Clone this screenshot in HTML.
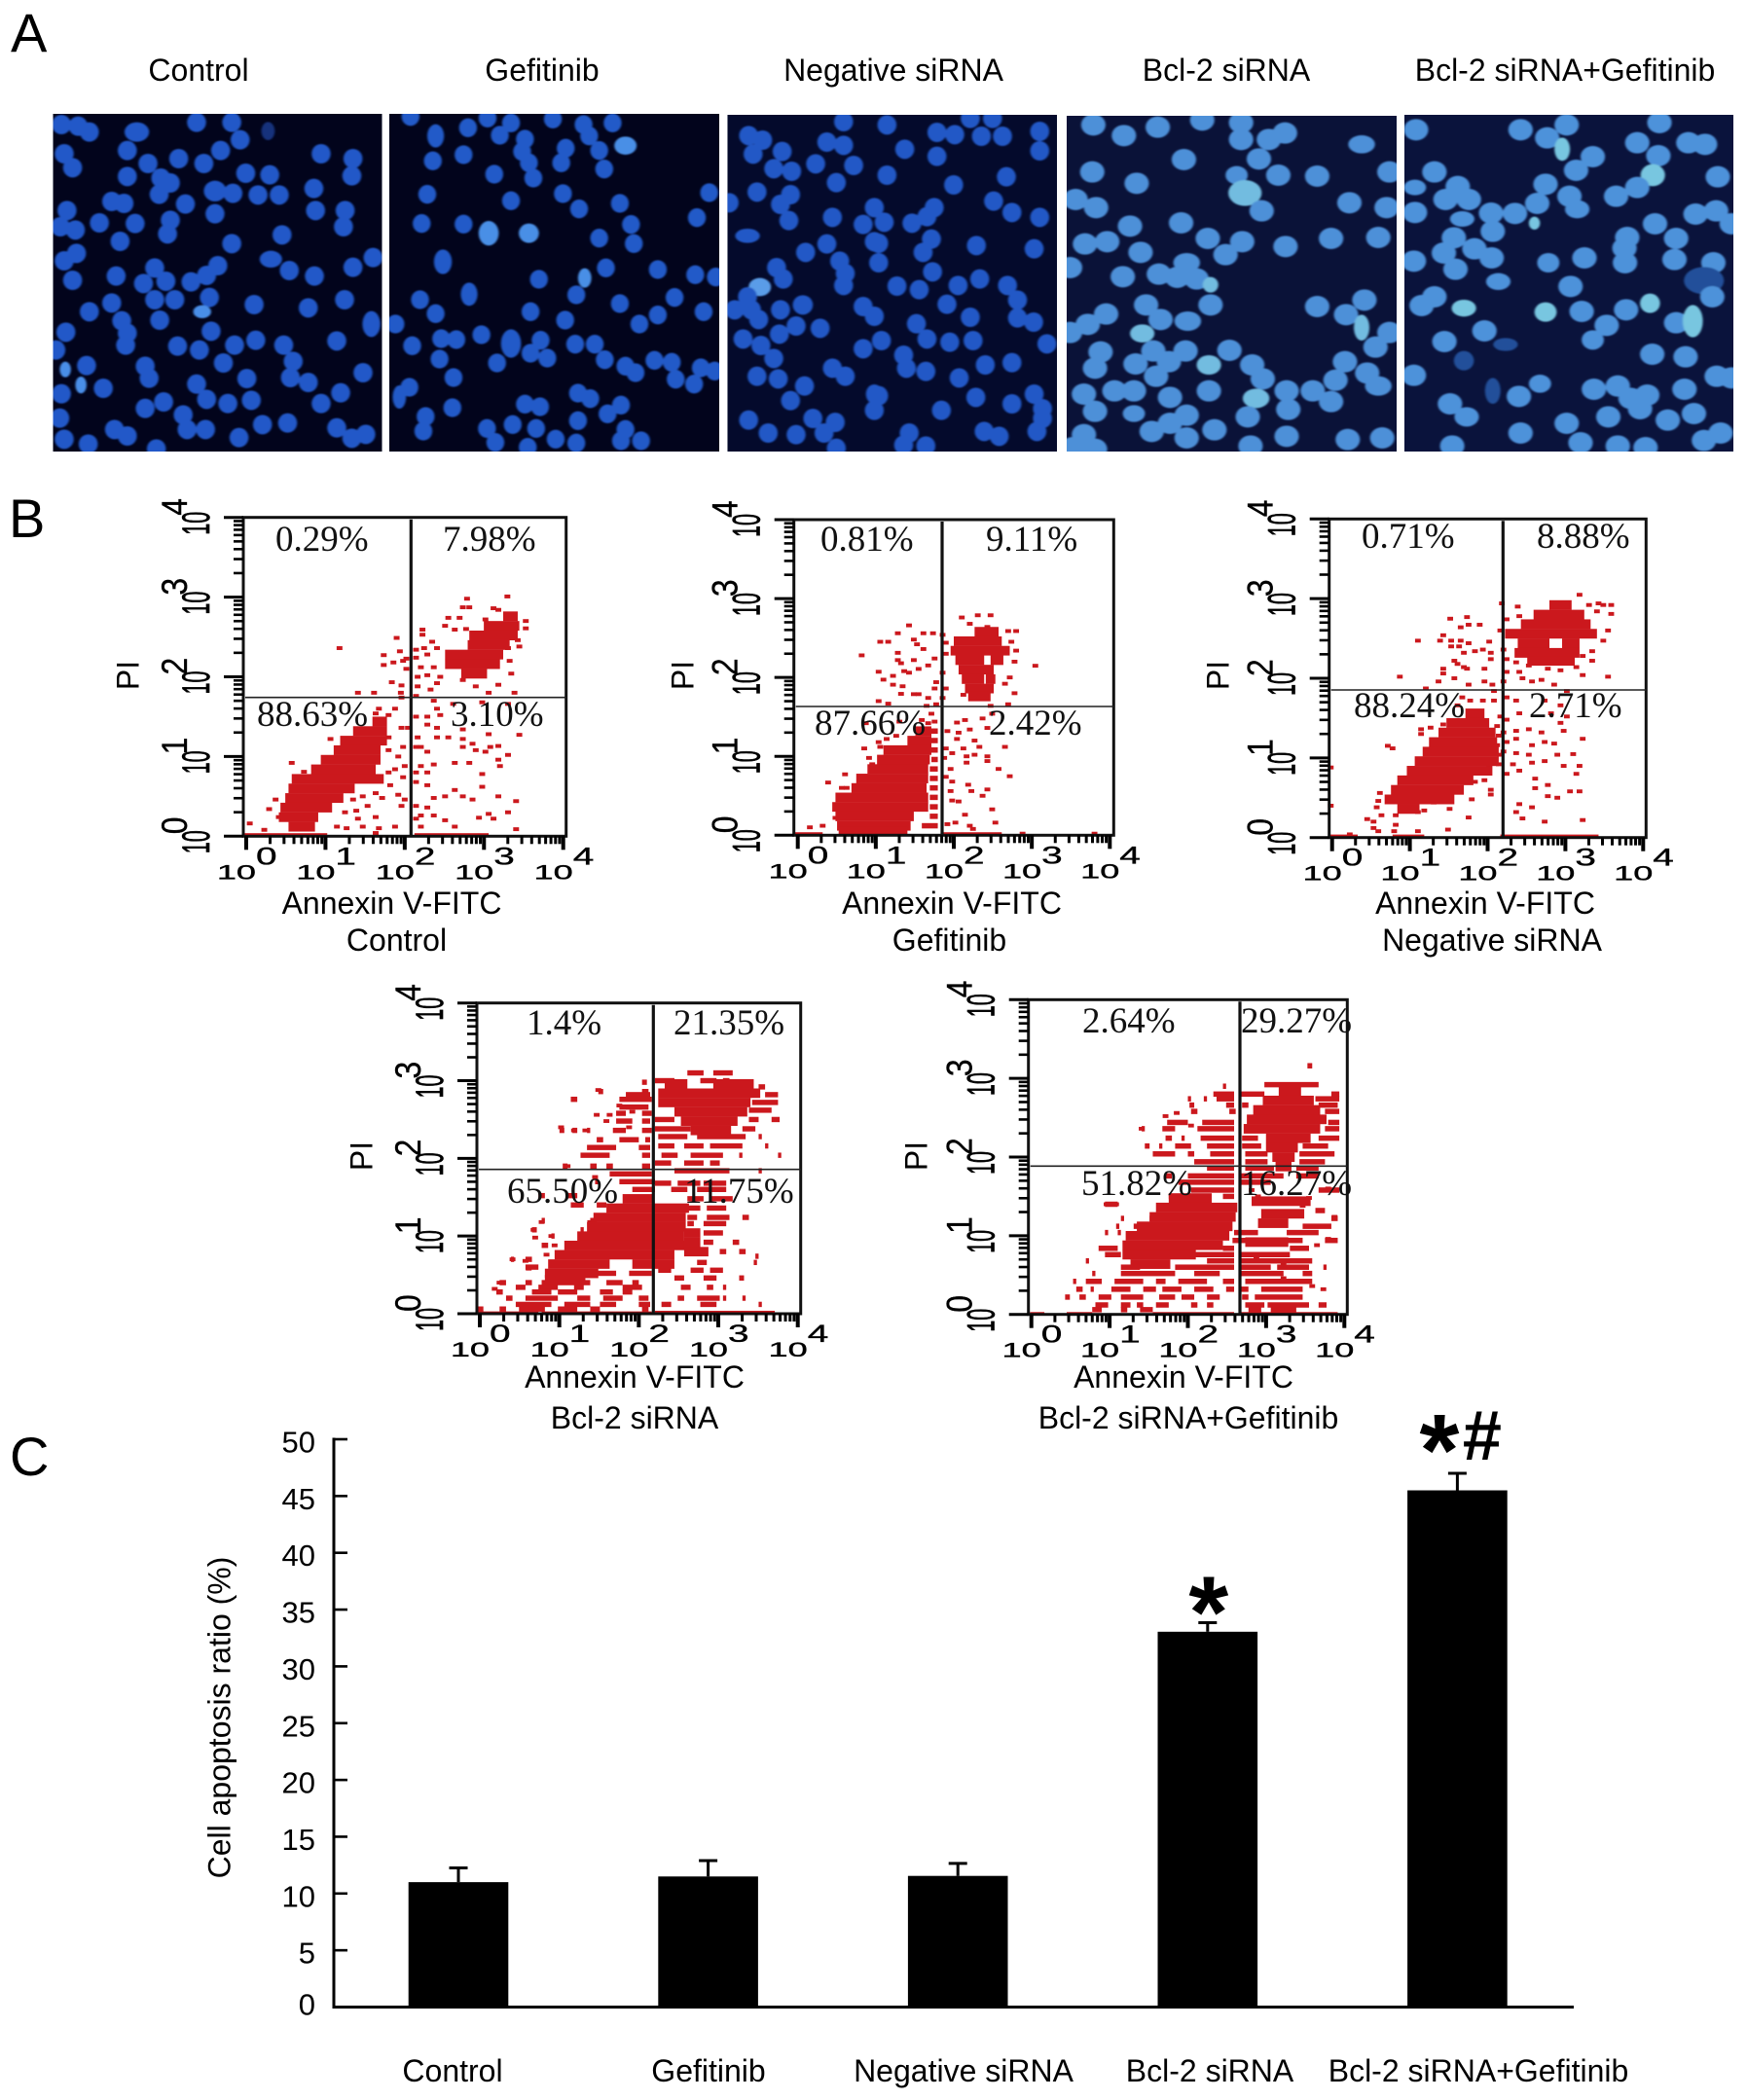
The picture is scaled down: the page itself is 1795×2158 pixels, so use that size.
<!DOCTYPE html>
<html lang="en">
<head>
<meta charset="utf-8">
<title>Bcl-2 siRNA and Gefitinib apoptosis figure</title>
<style>
html,body{margin:0;padding:0;background:#fff;}
svg#figure{display:block;}
text{font-family:"Liberation Sans",sans-serif;fill:#000;}
.big{font-size:32px;}
.letter{font-size:56px;}
.pct{font-family:"Liberation Serif",serif;font-size:37px;fill:#111;}
.mid{text-anchor:middle;}
</style>
</head>
<body>
<svg id="figure" width="1795" height="2158" viewBox="0 0 1795 2158">
  <defs>
    <filter id="soft" x="-5%" y="-5%" width="110%" height="110%"><feGaussianBlur stdDeviation="2"/></filter>
  </defs>
  <rect x="0" y="0" width="1795" height="2158" fill="#fff"/>

  <text class="letter" x="11" y="53">A</text>
  <text class="letter" x="9" y="552">B</text>
  <text class="letter" x="10" y="1516">C</text>

  <text class="big mid" x="204" y="83">Control</text>
  <text class="big mid" x="557" y="83">Gefitinib</text>
  <text class="big mid" x="918" y="83">Negative siRNA</text>
  <text class="big mid" x="1260" y="83">Bcl-2 siRNA</text>
  <text class="big mid" x="1608" y="83">Bcl-2 siRNA+Gefitinib</text>

  <g id="micro-layer"></g>
  <g id="plots-layer"></g>

  <g>
    <text class="pct" x="283" y="566">0.29%</text>
    <text class="pct" x="455" y="566">7.98%</text>
    <text class="pct" x="264" y="746">88.63%</text>
    <text class="pct" x="463" y="746">3.10%</text>
    <text class="big mid" x="402.5" y="939">Annexin V-FITC</text>
    <text class="big mid" x="407.5" y="977">Control</text>
    <text class="big mid" transform="translate(142.7,694) rotate(-90)">PI</text>
  </g>
  <g>
    <text class="pct" x="843" y="566">0.81%</text>
    <text class="pct" x="1013" y="566">9.11%</text>
    <text class="pct" x="837" y="755">87.66%</text>
    <text class="pct" x="1016" y="755">2.42%</text>
    <text class="big mid" x="978" y="939">Annexin V-FITC</text>
    <text class="big mid" x="975.5" y="977">Gefitinib</text>
    <text class="big mid" transform="translate(712.7,694) rotate(-90)">PI</text>
  </g>
  <g>
    <text class="pct" x="1399" y="563">0.71%</text>
    <text class="pct" x="1579" y="563">8.88%</text>
    <text class="pct" x="1391" y="737">88.24%</text>
    <text class="pct" x="1571" y="737">2.71%</text>
    <text class="big mid" x="1526" y="939">Annexin V-FITC</text>
    <text class="big mid" x="1533" y="977">Negative siRNA</text>
    <text class="big mid" transform="translate(1262.7,694) rotate(-90)">PI</text>
  </g>
  <g>
    <text class="pct" x="541" y="1063">1.4%</text>
    <text class="pct" x="692" y="1063">21.35%</text>
    <text class="pct" x="521" y="1236">65.50%</text>
    <text class="pct" x="703" y="1236">11.75%</text>
    <text class="big mid" x="652" y="1426">Annexin V-FITC</text>
    <text class="big mid" x="652" y="1468">Bcl-2 siRNA</text>
    <text class="big mid" transform="translate(382.7,1188) rotate(-90)">PI</text>
  </g>
  <g>
    <text class="pct" x="1112" y="1061">2.64%</text>
    <text class="pct" x="1275" y="1061">29.27%</text>
    <text class="pct" x="1111" y="1228">51.82%</text>
    <text class="pct" x="1275" y="1228">16.27%</text>
    <text class="big mid" x="1216" y="1426">Annexin V-FITC</text>
    <text class="big mid" x="1221" y="1468">Bcl-2 siRNA+Gefitinib</text>
    <text class="big mid" transform="translate(952.7,1188) rotate(-90)">PI</text>
  </g>

  <g id="bar-layer">
    <text class="big mid" transform="translate(236.5,1765) rotate(-90)">Cell apoptosis ratio (%)</text>
    <text class="big mid" x="465" y="2139">Control</text>
    <text class="big mid" x="728" y="2139">Gefitinib</text>
    <text class="big mid" x="990" y="2139">Negative siRNA</text>
    <text class="big mid" x="1243" y="2139">Bcl-2 siRNA</text>
    <text class="big mid" x="1519" y="2139">Bcl-2 siRNA+Gefitinib</text>
  </g>
</svg>

<script>
/* ---------- bar chart data ---------- */
const barCategories = ['control','gefitinib','negative-sirna','bcl2-sirna','bcl2-sirna-gefitinib'];
const barMeans = [11, 11.5, 11.55, 33.05, 45.5];
const barErrors = [1.25, 1.4, 1.1, 0.8, 1.5];
const barSignificance = ['', '', '', '*', '*#'];
const barTickValues = [0,5,10,15,20,25,30,35,40,45,50];

/* ---------- flow cytometry data: channels 0-1000 spanning four log decades ---------- */
const xTickExponents = ['0','1','2','3','4'];
const yTickExponents = ['0','1','2','3','4'];

const controlDense = [[360,400,445],[330,340,445],[300,300,445],[270,280,425],[240,240,425],[210,210,410],[180,150,435],[150,140,345],[120,130,310],[90,115,275],[60,110,232],[30,140,222],
[690,805,850],[660,745,855],[630,700,850],[600,695,825],[570,625,805],[540,625,795],[510,675,755]];
const controlStrips = [[5,0,260],[5,530,760]];
const controlEvents = [[298,590],[475,622],[435,568],[485,580],[505,557],[435,537],[465,545],[495,550],[505,525],[460,483],[490,473],[488,450],[355,450],[405,450],[490,435],
[693,745],[818,752],[680,718],[700,718],[775,715],[790,710],[635,685],[670,685],[750,680],[875,675],[875,652],[625,660],[655,648],[690,650],[555,648],[555,632],[850,615],[855,595],[820,590],[825,550],[830,510],[585,610],[560,590],[535,585],[570,570],[600,590],[535,560],[550,530],[590,530],[540,500],[570,505],[610,500],[600,480],[680,490],[720,470],[790,475],[760,450],[840,450],[540,470],[580,460],[535,440],[590,425],
[600,400],[650,415],[740,420],[820,415],[570,375],[610,380],[535,375],[570,350],[600,340],[680,335],[760,320],[855,318],[540,310],[600,310],[635,310],[680,305],[710,290],[790,283],[765,280],[535,280],[550,280],[570,265],[680,280],[720,270],[750,265],[820,255],[655,230],[700,230],[790,240],[795,220],[550,220],[590,225],[535,200],[570,200],[740,195],[535,170],[570,160],[740,155],[655,145],[590,120],[625,125],[680,125],[710,115],[790,125],[845,110],[535,95],[570,90],[550,65],[590,65],[625,50],[730,58],[760,70],[775,55],[820,75],[535,55],[655,30],[845,22],[550,30],
[420,400],[470,400],[410,385],[450,380],[490,340],[510,340],[450,310],[495,280],[480,250],[450,270],[500,220],[470,210],[495,185],[450,200],[455,160],[430,120],[480,130],[500,115],[370,125],[340,115],[410,135],[385,95],[350,80],[410,60],[490,95],[315,75],[355,55],[270,305],[150,230],[188,202],[100,115],[80,85],[20,40],[65,20],[110,60],[290,30],[320,25],[370,30],[420,25],[470,30],[410,10]];

const gefitinibDense = [[330,380,430],[300,355,430],[270,280,430],[240,260,425],[210,230,420],[180,195,420],[150,180,415],[120,130,420],[90,120,420],[60,130,375],[30,135,365],[13,140,355],
[645,565,640],[615,500,650],[585,490,675],[555,505,595],[555,615,655],[525,515,625],[495,525,595],[495,600,630],[465,535,625],[440,545,615]];
const gefitinibStrips = [[5,0,90],[5,460,650],[330,430,450],[300,430,450],[270,430,450],[240,430,450],[210,425,450],[180,425,450],[150,425,450],[120,425,450],[90,425,450],[60,425,450],[30,400,450]];
const gefitinibEvents = [[360,665],[325,640],[405,640],[435,640],[270,613],[295,613],[375,620],[385,605],[405,590],[212,570],[325,578],[325,555],[440,560],[375,555],[335,545],[420,538],[265,518],[280,493],[310,505],[345,520],[360,515],[390,527],[310,477],[340,472],[335,448],[375,447],[390,447],[420,435],[440,465],[445,485],[265,425],[295,417],[415,410],[445,415],[430,385],[400,365],[420,355],[440,360],[225,355],[330,360],[220,275],[265,295],[290,305],[320,315],[270,280],[235,245],[245,225],[160,193],[107,167],[150,150],[165,150],[90,30],[50,25],[130,55],
[525,690],[575,697],[615,697],[550,670],[605,660],[670,647],[695,647],[680,613],[695,585],[690,550],[755,537],[690,450],[675,500],[660,480],[465,635],[475,610],[475,575],[465,515],[475,465],[465,435],[530,445],[615,410],[670,415],[510,357],[535,365],[590,370],[620,385],[480,330],[515,325],[550,335],[605,340],[510,305],[565,300],[530,275],[580,280],[660,280],[475,275],[495,260],[540,250],[565,255],[605,250],[605,235],[540,230],[470,245],[490,210],[640,210],[675,187],[475,185],[495,170],[545,160],[605,145],[590,125],[555,140],[490,140],[495,110],[515,107],[620,82],[535,65],[480,35],[505,40],[550,30],[630,40],[560,20],[715,5],[940,5]];

const negativeDense = [[390,430,490],[360,370,505],[330,345,525],[300,315,530],[270,295,535],[240,270,535],[210,245,515],[180,215,455],[150,195,425],[120,175,395],[90,215,285],
[730,695,765],[700,645,805],[670,605,825],[640,555,845],[610,595,695],[610,735,790],[580,585,790],[555,625,775]];
const negativeStrips = [[5,0,90],[5,200,300],[5,540,850]];
const negativeEvents = [[280,618],[382,687],[435,692],[440,668],[475,668],[415,660],[360,635],[350,618],[385,618],[415,618],[440,610],[385,600],[410,600],[505,615],[485,590],[460,585],[510,580],[425,580],[395,555],[425,535],[405,545],[360,530],[360,515],[435,530],[490,530],[510,560],[223,505],[345,490],[395,500],[440,480],[490,490],[305,468],[515,480],[520,460],[420,440],[445,430],[485,430],[405,415],[520,430],[185,288],[200,280],[290,340],[320,345],[360,355],[290,325],[160,140],[155,115],[150,95],[120,58],[165,70],[140,50],[140,30],[155,20],[210,70],[210,40],[205,20],[280,80],[300,85],[330,110],[360,125],[380,115],[380,90],[450,120],[440,63],[375,25],[280,20],[405,150],[460,175],[490,180],[510,150],[510,135],[505,220],[5,220],[5,100],[65,10],
[545,735],[595,725],[790,762],[850,735],[890,730],[890,702],[845,710],[865,730],[820,730],[560,685],[600,695],[540,650],[880,650],[865,618],[830,585],[800,570],[550,590],[560,560],[590,550],[630,540],[690,530],[560,520],[600,520],[730,525],[780,535],[830,555],[550,490],[610,500],[670,495],[710,480],[800,510],[880,505],[640,490],[750,460],[560,440],[590,430],[680,430],[730,415],[540,380],[560,370],[600,390],[700,390],[750,380],[730,360],[550,330],[590,335],[630,340],[670,330],[740,335],[800,310],[560,300],[590,310],[640,290],[680,300],[710,295],[550,270],[590,265],[630,260],[680,240],[720,260],[770,262],[580,230],[640,235],[560,200],[600,210],[650,185],[740,225],[780,200],[790,225],[690,165],[650,155],[760,145],[790,145],[690,130],[600,105],[640,95],[720,125],[610,60],[680,50],[800,55],[590,80],[530,350],[535,320],[530,290],[540,260],[535,230]];

const bcl2Dense = [[370,450,545],[340,400,655],[310,360,645],[280,340,645],[250,310,640],[220,270,645],[190,240,610],[160,220,410],[160,480,610],[130,210,375],[110,210,335],
[740,580,650],[740,730,855],[710,560,875],[680,560,845],[650,610,835],[620,630,805],[590,660,785],[200,640,715],[230,640,690],[260,640,690]];
const bcl2Strips = [[775,650,700],[775,730,790],[745,510,525],[715,375,390],[715,510,530],[705,460,535],[690,290,310],[690,440,540],[665,440,530],[645,430,460],[645,510,540],[620,430,480],[620,510,535],[590,255,270],[590,295,310],[590,340,350],[590,420,460],[590,510,540],[560,370,390],[560,440,500],[560,520,535],[535,340,430],[535,500,535],[510,320,410],[510,510,535],[475,265,280],[475,350,370],[475,400,420],[475,510,535],[450,410,540],
[425,365,375],[425,440,550],[400,480,550],[380,190,210],[380,280,310],[350,290,330],[350,370,400],[300,200,210],[300,350,370],[270,170,185],[270,320,330],[250,230,240],[220,200,220],[175,105,115],[175,150,170],[150,150,190],
[130,370,430],[130,470,540],[100,70,90],[100,150,170],[100,200,350],[100,400,450],[100,480,500],[85,120,150],[85,190,250],[85,300,330],[85,450,510],[70,60,80],[70,170,230],[70,250,310],[70,380,420],[70,450,480],[50,90,110],[50,150,250],[50,310,350],[50,390,450],[50,500,530],[30,120,230],[30,270,350],[30,380,430],[30,500,535],[15,0,20],[15,70,90],[15,130,210],[15,250,310],[15,350,380],[15,510,530],[3,0,190],[3,200,540],
[420,550,600],[420,620,690],[420,700,770],[400,600,650],[400,680,770],[370,650,700],[370,720,790],[340,650,690],[340,710,770],[310,650,680],[310,710,780],[310,820,840],[290,650,670],[290,700,770],[260,700,760],[230,700,730],[230,790,810],[200,750,770],[200,810,830],[185,860,870],[165,550,600],[165,680,710],[165,855,865],[140,560,600],[140,660,700],[140,720,760],[115,610,640],[115,700,740],[115,810,825],[85,630,660],[85,710,730],[85,760,770],[50,620,640],[50,680,750],[50,760,770],[50,820,830],[30,570,600],[30,690,740],[30,870,880],[5,550,920],
[750,550,610],[750,690,740],[750,760,780],[730,870,890],[705,890,930],[680,850,930],[655,840,910],[625,550,610],[625,840,870],[625,910,935],[595,550,660],[595,820,860],[570,560,650],[570,680,830],[570,870,880],[540,560,610],[540,640,700],[540,720,820],[540,890,900],[510,570,620],[510,660,760],[510,810,820],[510,930,940],[485,550,600],[485,640,700],[485,720,750],[460,610,780],[460,870,880]];
const bcl2Events = [[375,720],[490,700],[300,690],[260,600],[300,590],[335,590],[370,640],[400,620],[200,295],[175,270],[230,250],[180,245],[110,175],[70,100],[55,80],[150,170],[160,145],[350,295],[440,670],[480,650],[410,640],[470,600],[365,440],[280,475],[240,220],[215,190]];

const comboDense = [[370,440,575],[340,400,655],[310,380,650],[280,340,640],[250,305,630],[220,295,610],[190,295,525],[160,320,445],
[710,785,855],[680,735,895],[650,705,915],[620,685,935],[590,675,915],[560,745,885],[530,745,845],[500,765,835],[470,775,825],[360,700,885],[320,730,865],[290,720,815],[230,680,815]];
const comboStrips = [[790,875,890],[730,740,910],[725,610,620],[700,580,645],[700,660,740],[700,950,975],[685,500,510],[685,550,560],[685,590,645],[685,900,975],[665,505,520],[665,620,645],[665,670,690],[665,910,970],[645,510,530],[645,630,650],[645,930,975],[610,435,500],[610,545,645],[610,940,975],[590,355,365],[590,420,460],[590,530,645],[590,930,975],[560,430,450],[560,480,490],[560,540,645],[560,670,720],[560,910,975],[535,365,380],[535,410,420],[535,460,510],[535,560,645],[535,670,730],[535,860,940],[510,390,460],[510,500,520],[510,570,645],[510,680,750],[510,850,960],[485,520,645],[485,680,750],[485,850,930],[465,560,645],[465,680,770],[465,840,910],
[440,430,450],[440,500,645],[440,660,800],[440,840,910],[420,470,645],[420,660,760],[395,510,645],[395,910,975],[375,440,560],[375,610,645],[350,240,280],[330,900,930],[305,290,300],[305,380,400],[305,950,970],[280,275,285],[280,330,350],[280,860,950],[260,240,250],[260,280,290],[260,645,720],[260,810,910],[235,640,690],[235,810,860],[235,930,970],[210,220,280],[210,610,645],[210,820,880],[190,240,290],[190,520,645],[190,660,820],[170,180,190],[170,560,645],[170,660,890],[150,290,350],[150,460,645],[150,660,760],[150,780,880],[150,925,935],[130,200,210],[130,290,460],[130,520,600],[130,660,800],[130,860,890],[105,140,150],[105,180,230],[105,270,360],[105,400,430],[105,470,560],[105,610,645],[105,680,890],[80,150,170],[80,195,205],[80,260,320],[80,360,400],[80,420,480],[80,520,580],[80,620,645],[80,660,690],[80,730,860],[55,115,130],[55,160,180],[55,220,260],[55,290,360],[55,410,460],[55,480,520],[55,560,600],[55,670,690],[55,710,860],[30,210,250],[30,290,320],[30,340,360],[30,400,440],[30,510,530],[30,560,580],[30,680,740],[30,750,880],[30,910,935],[15,200,230],[15,290,310],[15,350,390],[15,690,730],[15,760,840],[3,5,50],[3,120,200],[3,390,645],[3,660,970]];
const comboEvents = [[355,590],[430,630],[465,640],[510,600],[700,395],[720,375],[940,400],[880,370],[860,345],[245,350],[275,350],[880,280],[960,310],[940,240],[905,220],[715,180],[800,160],[800,115],[890,90],[925,80]];

/* ---------- fluorescence images: nuclei digitised as [x,y,rx,ry,tone] ---------- */
const controlNuclei=[[110,385],[140,390],[160,408],[245,408,22,30],[352,378],[415,378],[480,405,12,28,'d'],[430,432],[228,465],[115,475],[395,465],[575,475],[632,490],[130,518],[265,505],[320,490],[365,505],[440,535],[483,540],[228,545],[288,550],[305,565],[630,543],[385,590,20,32],[417,597],[462,602],[500,602],[562,582],[285,600],[200,622],[222,628],[332,630],[120,650],[385,660],[565,650],[618,650],[178,688],[242,690],[305,680],[615,700],[108,700],[135,710],[300,722],[505,725],[215,745],[415,752],[137,782],[115,805],[668,795],[485,800,20,26],[518,835],[563,852],[632,825],[208,852],[277,827],[390,820],[370,850],[130,865],[257,875],[297,868],[342,870],[277,925],[313,925],[375,918],[200,935],[455,940],[552,950],[617,925],[160,962],[362,962,16,20,'b'],[665,1000,16,40],[218,990],[286,988],[228,1028],[378,1022],[118,1025],[225,1065],[318,1068],[357,1080],[420,1065],[458,1050],[508,1065],[603,1052],[100,1080],[400,1120],[525,1115],[155,1128],[117,1140,10,24,'b'],[260,1130],[267,1167],[442,1168],[520,1165],[650,1150],[552,1180],[145,1188,10,26,'b'],[185,1198],[352,1185],[110,1215],[610,1212],[293,1240],[370,1232],[408,1245],[450,1235],[575,1245],[260,1260],[107,1290],[328,1280],[470,1310],[515,1305],[335,1325],[368,1325],[205,1325],[228,1345],[603,1320],[655,1340],[630,1352],[428,1350],[115,1355],[158,1370],[280,1385]];
const gefitinibNuclei=[[735,360],[780,420,15,36],[838,395],[873,365],[915,380],[990,368],[1045,385],[1097,380],[940,430],[895,418],[1055,420],[1120,450,20,28,'b'],[830,478],[935,468],[1013,458],[1073,465],[775,497],[947,503],[1005,503],[1082,522],[885,538],[955,550],[1270,595],[765,600],[915,620],[1008,598],[1110,628],[1037,645],[755,690],[830,692],[875,720,18,38,'b'],[947,720,18,30,'b'],[1130,693],[1073,735],[1248,672],[1135,752],[793,808,16,38],[1085,827],[1178,832],[1245,848],[1282,855],[965,862],[1047,858,12,30,'b'],[840,908,15,36],[1032,910],[752,925],[1208,918],[1110,937],[950,962],[780,968],[1178,972],[1145,1000],[1012,988],[1260,962],[708,1000],[862,1033],[790,1045],[817,1048],[915,1060,18,44],[968,1050],[1030,1062],[1065,1062],[738,1067],[950,1090],[980,1105],[1083,1110],[787,1108],[890,1120],[1172,1112],[1203,1118],[1120,1130],[1138,1150],[1255,1135],[1280,1145],[812,1165],[1210,1170],[1243,1185],[733,1195],[715,1225,12,36],[1035,1213],[1057,1230],[810,1258],[940,1247],[967,1255],[1112,1250],[762,1285],[1088,1277],[1035,1298],[872,1322],[918,1310],[758,1330],[960,1322],[1120,1325],[887,1365],[995,1355],[1032,1367],[1112,1360],[1148,1360],[945,1380]];
const negativeNucleiLeft=[[1340,418],[1365,432],[1348,475],[1400,467],[1385,520],[1417,528],[1480,438],[1510,448],[1460,505],[1528,510],[1497,563],[1355,592],[1415,600],[1305,625],[1397,630],[1565,640],[1412,680],[1490,670],[1545,692],[1338,727,22,22],[1480,752],[1442,778],[1565,745],[1503,805],[1390,825],[1513,843],[1402,860],[1510,880],[1360,885,20,28,'b'],[1338,915],[1315,955],[1345,955],[1397,955],[1437,940,18,30],[1545,945],[1358,985],[1565,975],[1395,1030],[1425,1005],[1330,1045],[1362,1065],[1468,1012],[1385,1105],[1545,1075],[1490,1135],[1355,1160],[1393,1168],[1513,1160],[1440,1190],[1415,1235],[1565,1215,15,30],[1565,1265],[1340,1295],[1455,1290],[1495,1302],[1375,1335],[1425,1340],[1475,1335],[1497,1382],[1510,375]];
const negativeNucleiRight=[[20,385],[170,365],[210,365],[110,408],[142,415],[190,420],[228,420],[295,405],[52,460],[110,482],[295,465],[20,540],[235,545],[140,570],[212,620],[105,640],[245,655],[295,670],[15,685],[65,688],[92,668],[100,737],[181,757],[285,767],[85,778],[5,750],[5,810],[102,838],[38,882],[78,893],[148,880],[187,860],[237,880],[255,925],[128,938],[170,978],[255,980],[284,993],[73,998],[10,1050],[92,1045],[133,1055],[175,1050],[308,1060],[50,1095],[55,1135],[90,1145],[197,1125],[245,1118],[150,1165],[5,1220],[180,1225],[245,1245],[285,1215],[300,1260],[118,1265],[300,1290],[60,1335],[195,1330],[222,1345],[290,1330],[50,1372],[90,1375]];
const bcl2Nuclei=[[392,385],[447,418],[508,392],[588,370],[658,378],[658,430],[708,430],[737,410],[875,445,24,28],[555,492],[690,490],[390,530],[725,540],[795,543],[925,530],[650,540,20,28],[470,565],[665,595,30,40,'b'],[360,615],[397,640],[853,625],[695,650],[920,640],[458,697],[550,687],[598,735],[660,745],[820,735],[905,732],[377,752],[417,745],[738,760],[630,785],[477,778],[350,825],[560,810,24,30],[510,845],[543,855],[578,860],[603,878,14,24,'b'],[445,853],[487,940],[603,940],[795,945],[880,925],[847,970],[415,968],[513,985],[562,990,24,30],[875,1010,14,40,'b'],[382,1000],[350,1025],[480,1028,22,28,'b'],[925,1025],[405,1085],[500,1082],[558,1082],[637,1080],[900,1070],[395,1135],[468,1122],[528,1115],[600,1125,22,30,'b'],[678,1125],[845,1115],[505,1160],[697,1168],[885,1150],[828,1172],[905,1190,24,30],[375,1215],[430,1205],[465,1205],[600,1205],[740,1205],[787,1205],[530,1225],[685,1228,24,30,'b'],[820,1238],[395,1268],[465,1275,20,26],[743,1262],[560,1280],[670,1285],[530,1305],[497,1330],[610,1325],[375,1340],[740,1345],[560,1350],[850,1355],[912,1350],[675,1375],[355,1380],[395,1385]];
const comboNuclei=[[972,400],[1160,400],[1208,425],[1243,385],[1410,378],[1462,440],[1492,445],[1370,440],[1235,460,14,36,'b'],[1290,483],[1408,480],[1260,525],[1005,530],[1515,545],[1205,568],[970,578,20,24],[1047,575],[1398,540,22,34,'b'],[1370,578],[1332,605],[1248,605],[1025,615],[1067,615],[1190,627],[1262,645,22,28],[970,655],[1055,675,22,24],[1107,657],[1150,658],[1475,660],[1512,650],[1540,690],[1185,688,10,20,'b'],[1402,690],[1110,713],[1352,732],[1040,733],[1440,735],[1077,767],[1347,765],[1022,780],[1108,795],[968,805],[1275,795],[1210,810,20,30],[1437,800],[1348,810],[1507,810],[1043,830],[1120,868,22,26],[1250,883],[1490,865,36,42,'d'],[1005,915],[982,942],[1505,915],[1058,950,22,26,'b'],[1393,935,18,30,'b'],[1205,962,20,30,'b'],[1270,960],[1350,955],[1440,995],[1470,990,18,50,'b'],[1315,1003],[1290,1048,20,30],[1095,1020],[1023,1053],[1133,1062,22,20,'d'],[1397,1092],[1058,1112,18,30,'d'],[1457,1100],[968,1157],[1513,1160],[1540,1165],[1110,1205,14,40,'d'],[1195,1183,20,28],[1292,1200],[1335,1190],[1455,1200],[1157,1222],[1358,1228],[1388,1218],[1033,1245],[1375,1260],[1063,1285,22,30],[1472,1275],[1243,1305],[1318,1285],[1425,1295],[1490,1358],[1520,1335],[1160,1335],[1037,1375],[1268,1365],[1385,1380],[1335,1375]];

/* ---------- drawing ---------- */
const svgRoot = document.getElementById('figure');
const SVG_NS = svgRoot.namespaceURI;
function svgEl(tag, attrs, parent){
  const el = document.createElementNS(SVG_NS, tag);
  for (const k in attrs) el.setAttribute(k, attrs[k]);
  parent.appendChild(el);
  return el;
}

/* micrographs */
const microLayer = document.getElementById('micro-layer');
const negativeMapped = negativeNucleiLeft.concat(negativeNucleiRight.map(function(n){
  return [(900 + n[0]/1.752)*1.742, n[1], n[2], n[3], n[4]];
}));
const micrographs = [
  {name:'micrograph-control', x:54.5, y:117, w:338, h:347, vb:[95,352,589,1041], bg:'#02041c', fill:'#2058c8', bright:'#4a8ee8', dim:'#14307c', r:[17,30], nuclei:controlNuclei},
  {name:'micrograph-gefitinib', x:400, y:117, w:339, h:347, vb:[697,352,591,1041], bg:'#02041c', fill:'#225ac8', bright:'#4a8fe6', dim:'#14307c', r:[16,29], nuclei:gefitinibNuclei},
  {name:'micrograph-negative-sirna', x:747.4, y:118, w:338.6, h:346, vb:[1302,354,590,1038], bg:'#040a2c', fill:'#2258c6', bright:'#5a9ce8', dim:'#14307c', r:[17,30], nuclei:negativeMapped},
  {name:'micrograph-bcl2-sirna', x:1096, y:119, w:339, h:345, vb:[344,357,594,1035], bg:'#0a1238', fill:'#4d90d8', bright:'#72bce0', dim:'#20509a', r:[22,33], nuclei:bcl2Nuclei},
  {name:'micrograph-bcl2-sirna-gefitinib', x:1443, y:118, w:338, h:346, vb:[951,354,592,1038], bg:'#0a133c', fill:'#4d92da', bright:'#78c6e0', dim:'#20509a', r:[22,33], nuclei:comboNuclei}
];
micrographs.forEach(function(m){
  const frame = svgEl('svg', {x:m.x, y:m.y, width:m.w, height:m.h, viewBox:m.vb.join(' '), preserveAspectRatio:'none'}, microLayer);
  
  
  const bg = svgEl('rect', {x:m.vb[0], y:m.vb[1], width:m.vb[2], height:m.vb[3], fill:m.bg}, frame);
  
  
  const cells = svgEl('g', {filter:'url(#soft)'}, frame);
  
  
  m.nuclei.forEach(function(n){
    const tone = n[4]==='b' ? m.bright : (n[4]==='d' ? m.dim : m.fill);
    const e = svgEl('ellipse', {cx:n[0], cy:n[1], rx:n[2]||m.r[0], ry:n[3]||m.r[1], fill:tone}, cells);
    
    
  });
});

/* flow plots */
const plotsLayer = document.getElementById('plots-layer');
const flowPlots = [
  {name:'flow-plot-control', L:250, T:531.7, R:581.7, B:859.3, gateX:422.3, gateY:716.7, inset:3, dense:controlDense, strips:controlStrips, events:controlEvents},
  {name:'flow-plot-gefitinib', L:815.7, T:534, R:1144.3, B:858.3, gateX:968, gateY:726, inset:4, dense:gefitinibDense, strips:gefitinibStrips, events:gefitinibEvents},
  {name:'flow-plot-negative-sirna', L:1365.7, T:533.3, R:1691.3, B:860.7, gateX:1544.3, gateY:709, inset:3, dense:negativeDense, strips:negativeStrips, events:negativeEvents},
  {name:'flow-plot-bcl2-sirna', L:490, T:1030.7, R:822.7, B:1350, gateX:671.3, gateY:1201.7, inset:3, dense:bcl2Dense, strips:bcl2Strips, events:bcl2Events},
  {name:'flow-plot-bcl2-sirna-gefitinib', L:1056.7, T:1027.3, R:1384.3, B:1350.7, gateX:1274, gateY:1198.3, inset:3, dense:comboDense, strips:comboStrips, events:comboEvents}
];
const RED = '#cb181d';
const minorLogs = [0.301,0.477,0.602,0.699,0.778,0.845,0.903,0.954];

flowPlots.forEach(function(p){
  const g = svgEl('g', {}, plotsLayer);
  
  
  const W = p.R - p.L, H = p.B - p.T;
  const xChan = function(c){ return p.L + c/1000*W; };
  const yChan = function(c){ return p.B - c/1000*H; };
  const xDecade = function(d){ return p.L + p.inset + (W - 2*p.inset)*d/4; };
  const yDecade = function(d){ return p.B - H*d/4; };

  p.events.forEach(function(ev){
    const r = svgEl('rect', {x:xChan(ev[0]-9), y:yChan(ev[1]+6), width:18/1000*W, height:12/1000*H, fill:RED}, g);
    
    
  });
  p.strips.forEach(function(s){
    const t = s[0] <= 5 ? 9 : 17;
    const r = svgEl('rect', {x:xChan(s[1]), y:yChan(s[0]+t/2), width:(s[2]-s[1])/1000*W, height:t/1000*H, fill:RED}, g);
    
    
  });
  p.dense.forEach(function(s){
    const r = svgEl('rect', {x:xChan(s[1]), y:yChan(s[0]+15), width:(s[2]-s[1])/1000*W, height:30.5/1000*H, fill:RED}, g);
    
    
  });

  const box = svgEl('rect', {x:p.L, y:p.T, width:W, height:H, fill:'none', stroke:'#111', 'stroke-width':3}, g);
  
  
  const gv = svgEl('line', {x1:p.gateX, x2:p.gateX, y1:p.T+2, y2:p.B, stroke:'#111', 'stroke-width':3.2}, g);
  
  
  const gh = svgEl('line', {x1:p.L+2, x2:p.R, y1:p.gateY, y2:p.gateY, stroke:'#222', 'stroke-width':1.6}, g);
  
  

  xTickExponents.forEach(function(label, d){
    const x = xDecade(d);
    const tick = svgEl('line', {x1:x, x2:x, y1:p.B, y2:p.B+14, stroke:'#000', 'stroke-width':4}, g);
    
    
    if (d < 4) minorLogs.forEach(function(m){
      const mx = xDecade(d+m);
      const mt = svgEl('line', {x1:mx, x2:mx, y1:p.B, y2:p.B+8, stroke:'#000', 'stroke-width':3}, g);
      
      
    });
    const base = svgEl('text', {transform:'translate('+(x+10)+','+(p.B+44)+') scale(1.72,1)', 'text-anchor':'end', 'font-size':21, stroke:'#000', 'stroke-width':0.35}, g);
    base.textContent = '10';
    
    
    const sup = svgEl('text', {transform:'translate('+(x+10)+','+(p.B+29)+') scale(1.55,1)', 'font-size':25, stroke:'#000', 'stroke-width':0.35}, g);
    sup.textContent = label;
    
    
  });

  yTickExponents.forEach(function(label, d){
    const y = yDecade(d);
    const tick = svgEl('line', {x1:p.L-20, x2:p.L, y1:y, y2:y, stroke:'#000', 'stroke-width':3}, g);
    
    
    if (d < 4) minorLogs.forEach(function(m){
      const my = yDecade(d+m);
      const mt = svgEl('line', {x1:p.L-10, x2:p.L, y1:my, y2:my, stroke:'#000', 'stroke-width':2.6}, g);
      
      
    });
    const base = svgEl('text', {transform:'translate('+(p.L-35)+','+(y+18)+') rotate(-90) scale(0.54,1)', 'font-size':40, stroke:'#000', 'stroke-width':0.7}, g);
    base.textContent = '10';
    
    
    const sup = svgEl('text', {transform:'translate('+(p.L-58)+','+(y-2)+') rotate(-90) scale(0.86,1)', 'font-size':37, stroke:'#000', 'stroke-width':0.35}, g);
    sup.textContent = label;
    
    
  });
});

/* bar chart */
const barLayer = document.getElementById('bar-layer');
const barBaseY = 2062.5, barPxPerUnit = 11.67, barFirstCenter = 471, barStep = 256.6, barWidth = 102.6, axisX = 343;
const barY = function(v){ return barBaseY - v*barPxPerUnit; };
const barX = function(i){ return barFirstCenter + i*barStep; };

barCategories.forEach(function(cat, i){
  const top = barY(barMeans[i]);
  const errTop = barY(barMeans[i] + barErrors[i]);
  const bar = svgEl('rect', {x:barX(i)-barWidth/2, y:top, width:barWidth, height:barBaseY-top, fill:'#000'}, barLayer);
  
  
  const stem = svgEl('line', {x1:barX(i), x2:barX(i), y1:top, y2:errTop, stroke:'#000', 'stroke-width':3}, barLayer);
  
  
  const cap = svgEl('line', {x1:barX(i)-9.5, x2:barX(i)+9.5, y1:errTop, y2:errTop, stroke:'#000', 'stroke-width':3}, barLayer);
  
  
  const sig = barSignificance[i];
  if (sig) {
    const both = sig.length > 1;
    const starCx = both ? barX(i) - 18.5 : barX(i) + 1;
    const starCy = errTop - (both ? 44 : 31);
    const star = svgEl('text', {x:starCx, y:starCy + 56, 'text-anchor':'middle', 'font-size':105, 'font-weight':'bold'}, barLayer);
    star.textContent = '*';
    
    
    if (both) {
      const hash = svgEl('text', {x:barX(i) + 25.5, y:errTop - 14, 'text-anchor':'middle', 'font-size':72, 'font-weight':'bold'}, barLayer);
      hash.textContent = '#';
      
      
    }
  }
});

const yAxisLine = svgEl('line', {x1:axisX, x2:axisX, y1:barY(50)-1.5, y2:barBaseY+1.5, stroke:'#000', 'stroke-width':3}, barLayer);


const xAxisLine = svgEl('line', {x1:axisX, x2:1617, y1:barBaseY, y2:barBaseY, stroke:'#000', 'stroke-width':3}, barLayer);


barTickValues.forEach(function(v){
  const y = barY(v);
  const t = svgEl('line', {x1:axisX, x2:axisX+14, y1:y, y2:y, stroke:'#000', 'stroke-width':2.6}, barLayer);
  
  
  const lab = svgEl('text', {x:324, y:y + 11 + (v === 0 ? -3 : 2.5), 'text-anchor':'end', 'font-size':31}, barLayer);
  lab.textContent = String(v);
  
  
});
</script>
</body>
</html>
